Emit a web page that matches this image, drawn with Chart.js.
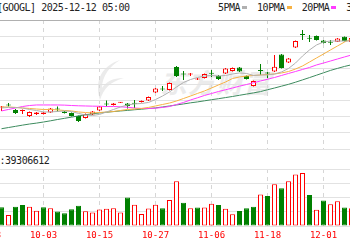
<!DOCTYPE html>
<html>
<head>
<meta charset="utf-8">
<script src="https://cdn.jsdelivr.net/npm/chart.js@4.4.0/dist/chart.umd.min.js"></script>
<style>
html, body { margin: 0; padding: 0; background: #fff; }
#wrap { position: relative; width: 350px; height: 250px; overflow: hidden; }
.txt { position: absolute; font: 10px "DejaVu Sans Mono", monospace; letter-spacing: -0.5px; color: #222; white-space: nowrap; line-height: 12px; }
.sw { display: inline-block; width: 5px; height: 3px; margin: 0 10px 2px 2px; vertical-align: middle; }
#wm { position: absolute; left: 160px; top: 62px; font: italic bold 27px "Noto Sans CJK SC"; color: #ebebeb; letter-spacing: 1px; }
#logo { position: absolute; left: 90px; top: 58px; }
#mainBox { position: absolute; left: -40px; top: 20px; }
#volBox { position: absolute; left: -40px; top: 169px; }
canvas { display: block; }
</style>
</head>
<body>
<div id="wrap">
  <svg id="logo" width="40" height="45" viewBox="0 0 40 45">
    <path d="M30 2 C12 8 4 22 10 42 C14 30 20 24 34 20 C22 20 16 24 12 30 C12 18 20 8 30 2 Z" fill="#ebebeb"/>
  </svg>
  <div id="wm">东方财富</div>
  <div id="mainBox"><canvas id="pe-main" width="430" height="130"></canvas></div>
  <div id="volBox"><canvas id="pe-vol" width="430" height="76"></canvas></div>
  <div class="txt" style="left:-3px;top:2px">[GOOGL] 2025-12-12 05:00</div>
  <div class="txt" id="legend" style="left:218px;top:2px"></div>
  <div class="txt" id="volTxt" style="left:-17px;top:155px"></div>
</div>
<script>
(function() {
    'use strict';

    // trading days shown (index 0 = 09-25)
    var dates = ['09-25','09-26','09-29','09-30','10-01','10-02','10-03','10-06','10-07','10-08',
        '10-09','10-10','10-13','10-14','10-15','10-16','10-17','10-20','10-21','10-22',
        '10-23','10-24','10-27','10-28','10-29','10-30','10-31','11-03','11-04','11-05',
        '11-06','11-07','11-10','11-11','11-12','11-13','11-14','11-17','11-18','11-19',
        '11-20','11-21','11-24','11-25','11-26','11-28','12-01','12-02','12-03','12-04','12-05'];

    var opens = [238.8,242.0,236.1,235.0,229.5,231.7,231.7,233.3,237.1,234.4,
        232.8,229.5,227.4,231.2,235.5,242.6,241.5,243.9,243.1,243.3,
        244.7,246.4,255.0,259.4,257.8,282.7,275.7,274.6,269.1,270.8,
        276.2,272.9,275.7,278.4,282.2,272.9,262.1,279.5,276.7,277.8,
        296.3,287.6,303.9,318.5,314.2,316.3,311.5,309.8,310.2,315.5,309.8];
    var highs = [240.4,243.6,237.1,236.6,234.4,233.9,233.9,238.2,239.8,235.0,
        233.3,230.1,232.3,235.0,240.4,246.4,243.6,244.7,243.6,246.9,
        246.4,250.7,259.9,262.1,265.9,283.8,278.4,276.2,270.8,275.7,
        279.5,274.0,281.6,282.2,282.7,273.5,268.1,286.0,277.3,295.7,
        296.8,292.5,311.5,322.9,317.4,316.9,312.0,312.0,314.2,315.8,314.7];
    var lows = [235.0,239.8,231.7,231.7,228.5,230.6,231.2,232.8,234.4,232.3,
        229.0,223.0,226.8,230.6,235.0,239.8,240.9,243.6,237.7,238.2,
        244.2,245.8,254.5,256.7,257.2,271.9,268.6,272.9,268.6,270.2,
        271.9,268.6,275.1,277.8,277.3,269.1,261.5,274.0,270.8,277.3,
        281.1,287.0,303.3,312.0,309.8,311.5,308.2,306.6,309.8,310.4,309.3];
    var closes = [239.8,240.9,232.8,236.1,233.9,233.3,233.3,237.7,236.6,232.8,
        229.5,224.1,231.7,234.4,239.8,242.0,243.1,244.5,240.4,242.8,
        245.8,250.2,259.4,258.3,265.3,272.9,274.6,275.1,270.2,275.1,
        275.3,269.7,281.1,281.6,277.8,269.7,267.5,278.4,275.7,283.0,
        281.6,291.9,310.9,317.4,313.3,312.0,308.7,309.0,313.6,310.9,314.2];

    var ma5 = [238.2,238.8,238.8,238.2,236.6,235.5,233.9,233.9,234.4,235.0,
        234.4,232.3,230.6,230.1,231.2,233.9,236.6,239.3,241.5,242.6,
        243.1,244.2,247.4,251.2,255.6,261.0,265.9,269.1,271.3,272.9,
        273.5,272.9,273.5,275.1,276.2,275.7,273.5,274.0,274.0,275.1,
        277.3,281.1,287.0,294.6,301.2,306.6,309.8,310.9,310.9,310.9,310.9];
    var ma10 = [239.3,239.3,238.8,238.2,237.7,237.1,236.6,236.6,236.1,235.5,
        235.0,233.9,233.3,232.8,233.3,233.9,234.4,235.5,236.6,237.1,
        237.7,238.8,240.4,242.0,243.6,245.8,248.5,251.2,254.0,256.7,
        259.9,263.2,266.4,270.2,271.9,272.9,273.5,274.0,274.6,275.1,
        276.2,277.8,280.5,283.8,288.1,292.5,296.8,301.2,305.5,309.8,313.1];
    var ma20 = [235.0,236.6,238.2,239.8,240.9,241.5,241.5,241.5,241.5,241.3,
        240.9,240.6,240.4,240.2,240.1,239.8,239.8,239.5,239.0,238.2,
        237.7,237.7,238.0,238.8,239.8,242.0,244.2,246.9,249.3,251.8,
        253.9,256.1,258.0,259.9,261.9,263.7,265.6,267.5,269.4,271.3,
        273.5,275.7,277.8,280.0,282.2,284.9,287.0,289.2,291.4,293.6,295.7];
    var ma30 = [215.7,217.0,218.3,219.6,220.8,221.8,223.0,224.3,225.7,227.0,
        228.3,229.6,230.8,231.9,232.8,233.6,234.3,235.0,235.6,236.3,
        236.9,237.6,238.3,239.3,240.4,241.5,242.6,243.8,244.8,246.0,
        247.2,248.3,249.5,250.7,252.0,253.3,254.6,256.0,258.0,259.9,
        261.9,263.9,266.2,268.7,271.2,273.8,276.4,279.0,281.2,283.3,285.1];

    // volume in millions, and whether the bar is drawn red (1) or green (0)
    var volumes = [36.0,21.3,37.3,40.3,37.3,29.6,36.0,34.2,27.9,24.8,
        32.5,39.0,28.4,26.1,31.9,33.2,34.2,26.1,55.0,40.8,
        23.1,33.7,40.8,34.2,50.2,86.4,44.9,34.2,35.5,35.5,
        43.1,40.3,33.2,22.5,28.9,34.2,37.3,60.8,58.0,80.4,
        72.7,86.4,99.3,102.4,59.8,31.4,49.1,42.0,47.9,35.5,34.2];
    var volUp = [0,1,0,0,1,1,0,1,0,0, 0,0,1,1,1,1,1,1,0,1,
        1,1,1,0,1,1,0,1,0,1, 1,0,1,1,0,0,0,1,0,1,
        0,1,1,1,0,1,0,1,1,0,1];
    var volLast = 39306612;

    var tickIdx = [-2, 6, 14, 22, 30, 38, 46];
    var tickLabels = ['09-23', '10-03', '10-15', '10-27', '11-06', '11-18', '12-01'];

    var maNames = ['5PMA', '10PMA', '20PMA', '30PMA'];
    var maColors = ['#b0b0b0', '#f7b244', '#ff3cff', '#3d8b5e'];

    var RED = '#ff0000';
    var GREEN = '#008000';

    // layout: candle i sits at page x = FIRST_X + STEP * i
    var STEP = 7, FIRST_X = 1.5, SHIFT = 40, CANVAS_W = 430;
    var X_MIN = -(FIRST_X + SHIFT) / STEP;
    var X_MAX = X_MIN + CANVAS_W / STEP;

    function xScale(showLabels) {
        return {
            type: 'linear',
            min: X_MIN,
            max: X_MAX,
            offset: false,
            afterBuildTicks: function(axis) {
                axis.ticks = tickIdx.map(function(v) { return { value: v }; });
            },
            grid: { color: '#d6d6d6', drawTicks: false, offset: false },
            border: { display: false, dash: [4, 4] },
            ticks: {
                display: showLabels,
                autoSkip: false,
                maxRotation: 0,
                padding: 5,
                color: RED,
                font: { family: 'DejaVu Sans Mono', size: 9, lineHeight: 1 },
                callback: function(v) {
                    var k = tickIdx.indexOf(v);
                    return k < 0 ? '' : tickLabels[k];
                }
            }
        };
    }

    function lineSet(values, color) {
        return {
            type: 'line',
            data: values.map(function(v, i) { return { x: i, y: v }; }),
            borderColor: color,
            borderWidth: 1,
            pointRadius: 0,
            fill: false,
            tension: 0
        };
    }

    function isUp(i) { return closes[i] >= opens[i]; }

    function renderMain() {
        var canvas = document.getElementById('pe-main');
        var bodies = [], wicks = [];
        for (var i = 0; i < dates.length; i++) {
            bodies.push({ x: i, y: [opens[i], closes[i]] });
            wicks.push({ x: i, y: [lows[i], highs[i]] });
        }

        var datasets = [];
        datasets.push(lineSet(ma5, maColors[0]));
        datasets.push(lineSet(ma10, maColors[1]));
        datasets.push(lineSet(ma20, maColors[2]));
        datasets.push(lineSet(ma30, maColors[3]));
        datasets.push({
            type: 'bar',
            data: bodies,
            backgroundColor: function(c) { return isUp(c.dataIndex) ? '#ffffff' : GREEN; },
            borderColor: function(c) { return isUp(c.dataIndex) ? RED : GREEN; },
            borderWidth: 1,
            borderSkipped: false,
            barThickness: 5,
            minBarLength: 1,
            grouped: false,
            inflateAmount: 0
        });
        datasets.push({
            type: 'bar',
            data: wicks,
            backgroundColor: function(c) { return isUp(c.dataIndex) ? RED : GREEN; },
            borderWidth: 0,
            barThickness: 1,
            grouped: false,
            inflateAmount: 0
        });

        new Chart(canvas.getContext('2d'), {
            type: 'bar',
            data: { datasets: datasets },
            options: {
                responsive: false,
                animation: false,
                events: [],
                layout: { padding: { bottom: 1 } },
                scales: {
                    x: xScale(false),
                    y: {
                        min: 193.7,
                        max: 333.7,
                        ticks: { display: false, count: 9 },
                        grid: {
                            drawTicks: false,
                            color: function(c) { return c.index === 8 ? '#b0b0b0' : '#e2e2e2'; }
                        },
                        border: { display: false }
                    }
                },
                plugins: { legend: { display: false }, tooltip: { enabled: false } }
            }
        });
    }

    function renderVolume() {
        var canvas = document.getElementById('pe-vol');
        var pts = volumes.map(function(v, i) { return { x: i, y: v }; });

        new Chart(canvas.getContext('2d'), {
            type: 'bar',
            data: {
                datasets: [{
                    data: pts,
                    backgroundColor: function(c) { return volUp[c.dataIndex] ? '#ffffff' : GREEN; },
                    borderColor: function(c) { return volUp[c.dataIndex] ? RED : GREEN; },
                    borderWidth: 1,
                    borderSkipped: false,
                    barThickness: 5,
                    grouped: false,
                    inflateAmount: 0
                }]
            },
            options: {
                responsive: false,
                animation: false,
                events: [],
                scales: {
                    x: xScale(true),
                    y: {
                        min: 0,
                        max: 110,
                        ticks: { display: false, count: 5 },
                        grid: { drawTicks: false, color: '#e2e2e2' },
                        border: { display: false }
                    }
                },
                plugins: { legend: { display: false }, tooltip: { enabled: false } }
            }
        });
    }

    function renderTexts() {
        var html = '';
        for (var i = 0; i < maNames.length; i++) {
            html += maNames[i] + '<span class="sw" style="background:' + maColors[i] + '"></span>';
        }
        document.getElementById('legend').innerHTML = html;
        document.getElementById('volTxt').textContent = 'VOL:' + volLast;
    }

    renderTexts();
    renderMain();
    renderVolume();
})();
</script>
</body>
</html>
